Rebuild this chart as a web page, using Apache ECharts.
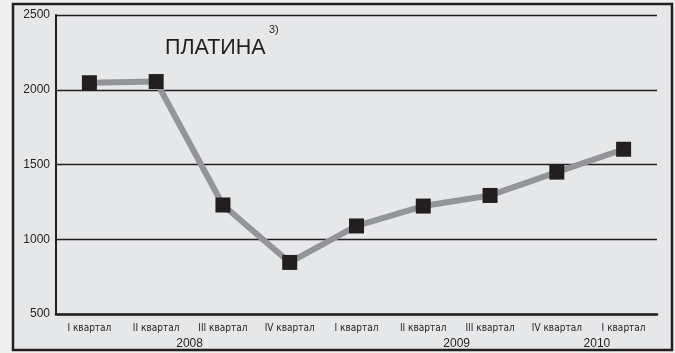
<!DOCTYPE html>
<html>
<head>
<meta charset="utf-8">
<script src="https://cdn.jsdelivr.net/npm/echarts@6/dist/echarts.min.js"></script>
<style>
  html, body { margin: 0; padding: 0; background: #efefed; }
  #chart { width: 675px; height: 353px; }
</style>
</head>
<body>
<div id="chart"></div>
<script>
// Quarterly platinum price
const quarters = ['I квартал', 'II квартал', 'III квартал', 'IV квартал',
                  'I квартал', 'II квартал', 'III квартал', 'IV квартал', 'I квартал'];
const prices = [2047, 2055, 1229, 845, 1089, 1222, 1293, 1449, 1602];
const years = ['2008', '2009', '2010'];
const yTicks = [500, 1000, 1500, 2000, 2500];

const titleText = 'ПЛАТИНА';
const footnote = '3)';

// year captions sit between quarter labels (in category units)
const yearSlots = [1.5, 5.5, 7.6];

const ink = '#231f20';
const condensed = '"Liberation Sans Narrow", "DejaVu Sans Condensed", "Arial Narrow", "Liberation Sans", sans-serif';
const plain = '"Liberation Sans", Arial, sans-serif';

const chart = echarts.init(document.getElementById('chart'));

const option = {
  backgroundColor: 'transparent',
  animation: false,
  title: [
    { text: titleText, left: 160, top: 32,
      textStyle: { fontFamily: plain, fontSize: 21.5, fontWeight: 'normal', color: ink } },
    { text: footnote, left: 264, top: 19,
      textStyle: { fontFamily: plain, fontSize: 11, fontWeight: 'normal', color: ink } }
  ],
  grid: { left: 56, right: 18, top: 15, bottom: 39 },
  xAxis: {
    type: 'category',
    data: quarters,
    boundaryGap: true,
    axisLine: { lineStyle: { color: ink, width: 2.5 } },
    axisTick: { inside: true, alignWithLabel: true, length: 7, lineStyle: { color: ink, width: 1.5 } },
    axisLabel: { interval: 0, margin: 9, color: ink, fontSize: 10, fontFamily: condensed }
  },
  yAxis: {
    type: 'value',
    min: yTicks[0],
    max: yTicks[yTicks.length - 1],
    interval: 500,
    axisLine: { show: true, lineStyle: { color: ink, width: 2 } },
    axisTick: { show: false },
    axisLabel: { margin: 6, color: ink, fontSize: 12, fontFamily: plain,
                 formatter: v => String(v) },
    splitLine: { show: true, lineStyle: { color: ink, width: 1.3 } }
  },
  series: [{
    type: 'line',
    data: prices,
    symbol: 'rect',
    symbolSize: 15,
    itemStyle: { color: ink },
    lineStyle: { color: '#939598', width: 6 },
    z: 3
  }]
};

chart.setOption(option);

// frame panel and year captions placed through the axis scale
const left = chart.convertToPixel({ xAxisIndex: 0 }, 0);
const step = chart.convertToPixel({ xAxisIndex: 0 }, 1) - left;
const axisY = chart.convertToPixel({ yAxisIndex: 0 }, yTicks[0]);

const graphics = [{
  type: 'rect',
  shape: { x: 13, y: 4, width: 659, height: 346 },
  style: { fill: '#e6e7e8', stroke: ink, lineWidth: 2.5 },
  z: -10, silent: true
}];
years.forEach((y, i) => {
  graphics.push({
    type: 'text',
    x: left + step * yearSlots[i],
    y: axisY + 30,
    style: { text: y, fill: ink, font: '12px ' + plain, textAlign: 'center', textVerticalAlign: 'middle' },
    z: 5
  });
});
chart.setOption({ graphic: graphics });
</script>
</body>
</html>
